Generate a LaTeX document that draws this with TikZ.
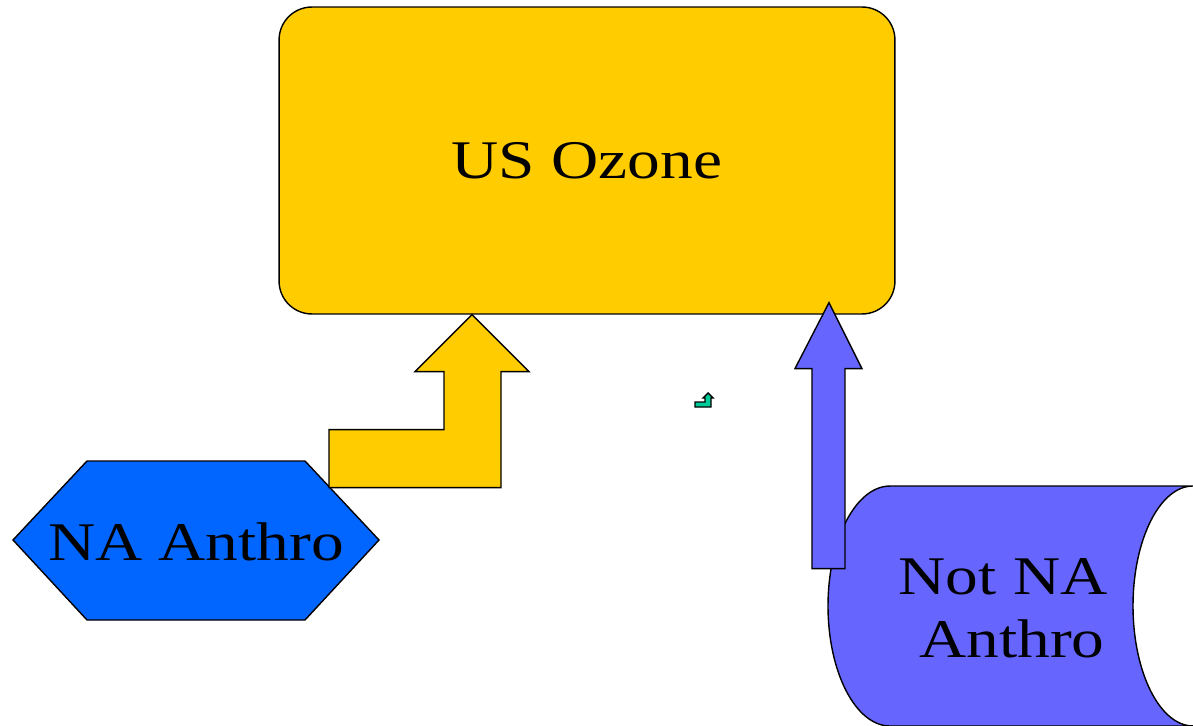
\documentclass[tikz,border=0pt]{standalone}
\usepackage{fontspec}
\usepackage{tikz}

\newfontfamily\slidefont[FakeStretch=1.2]{Liberation Serif}

\definecolor{ozoneYellow}{HTML}{FFCC00}
\definecolor{naBlue}{HTML}{0066FF}
\definecolor{notnaBlue}{HTML}{6666FF}
\definecolor{iconGreen}{HTML}{00CC99}

\tikzset{
  slidetext/.style={font=\slidefont\fontsize{31}{35.7}\selectfont, inner sep=0pt},
  outline/.style={draw=black, line width=0.8pt, line join=miter},
}

\begin{document}
\begin{tikzpicture}[x=0.02cm,y=-0.02cm]
    \useasboundingbox (0,0) rectangle (1193,726);

    \node (ozone) at (587,160.5) [outline, fill=ozoneYellow, rounded corners=18.7pt,
        minimum width=12.32cm, minimum height=6.14cm, slidetext] {\raisebox{-2pt}{US Ozone}};

    % source shapes
    \draw[outline, fill=naBlue] (13,540) -- (87,461) -- (305,461) -- (379,540)
        -- (305,620) -- (87,620) -- cycle;
    \node (na) at (196,560) [slidetext, anchor=base] {NA Anthro};

    \draw[outline, fill=notnaBlue] (890,486) -- (1193,486)
        arc[start angle=90, end angle=270, x radius=1.2cm, y radius=2.4cm]
        -- (890,726)
        arc[start angle=270, end angle=90, x radius=1.24cm, y radius=2.4cm] -- cycle;
    \node (notna) at (1003,558) [slidetext, anchor=north, align=center] {Not NA\\ \hspace*{0.36cm}Anthro};

    % block arrows into the box
    \coordinate (naIn) at ([xshift=-2.3cm]ozone.south);
    \coordinate (notnaIn) at ([xshift=4.84cm,yshift=0.24cm]ozone.south);

    \draw[outline, fill=ozoneYellow] (naIn) -- ++(57,57) -- ++(-28,0) -- ++(0,116)
        -- ++(-172,0) -- ++(0,-58) -- ++(115,0) -- ++(0,-58) -- ++(-29,0) -- cycle;
    \draw[outline, fill=notnaBlue] (notnaIn) -- ++(33,66) -- ++(-17,0) -- ++(0,200)
        -- ++(-33,0) -- ++(0,-200) -- ++(-17,0) -- cycle;

    % small icon
    \draw[outline, fill=iconGreen] (695,407) -- (711,407) -- (711,398) -- (713,398)
        -- (708,393) -- (703,398) -- (705,398) -- (705,402) -- (695,402) -- cycle;
\end{tikzpicture}
\end{document}
